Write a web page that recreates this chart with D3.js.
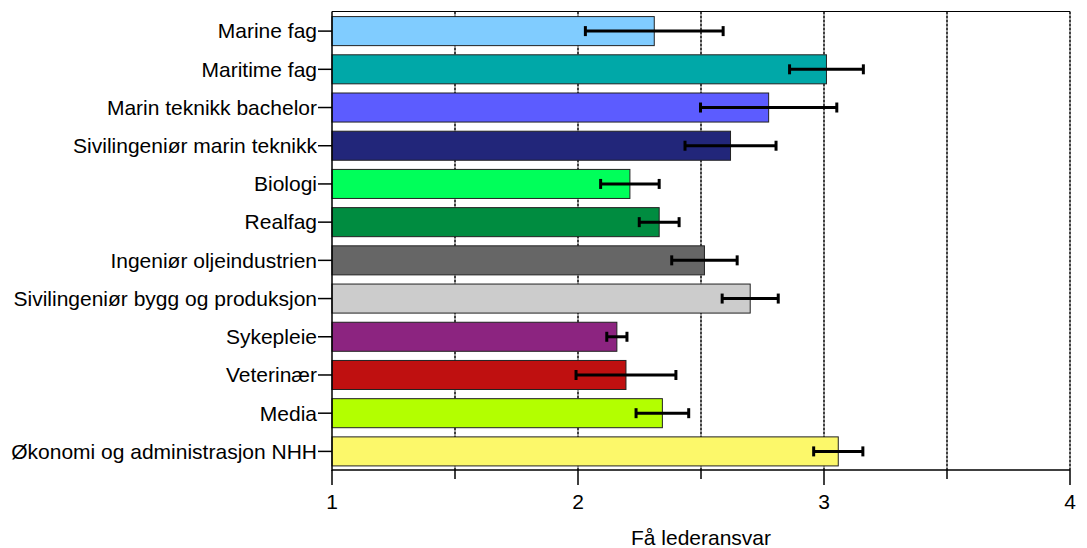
<!DOCTYPE html>
<html>
<head>
<meta charset="utf-8">
<script src="https://cdn.jsdelivr.net/npm/d3@7/dist/d3.min.js"></script>
<style>
  html, body { margin: 0; padding: 0; background: #fff; }
  svg { display: block; font-family: "Liberation Sans", Arial, sans-serif; }
</style>
</head>
<body>
<svg id="chart" width="1087" height="548"></svg>
<script>
const categories = [
  "Marine fag", "Maritime fag", "Marin teknikk bachelor", "Sivilingeniør marin teknikk",
  "Biologi", "Realfag", "Ingeniør oljeindustrien", "Sivilingeniør bygg og produksjon",
  "Sykepleie", "Veterinær", "Media", "Økonomi og administrasjon NHH"
];
const means  = [2.31, 3.01, 2.775, 2.62, 2.211, 2.33, 2.514, 2.70, 2.158, 2.195, 2.343, 3.058];
const errors = [0.28, 0.15, 0.277, 0.185, 0.119, 0.081, 0.133, 0.114, 0.041, 0.203, 0.107, 0.10];
const colors = ["#80CCFF", "#00A8A8", "#5C5CFF", "#22267A", "#00FF5A", "#008C40",
                "#666666", "#CCCCCC", "#8C2480", "#BF1010", "#B3FF00", "#FCF86A"];
const xMajorTicks = [1, 2, 3, 4];
const xMinorTicks = [1.5, 2.5, 3.5];
const gridValues = [1.5, 2, 2.5, 3, 3.5, 4];
const xTitle = "Få lederansvar";

(function () {
const svg = d3.select("#chart");
const mLeft = 332, mRight = 1070, mTop = 11.5, mBottom = 470;
const fs = 21;

const x = d3.scaleLinear().domain([1, 4]).range([mLeft, mRight]);
const y = d3.scaleBand().domain(categories).range([mTop + 0.5, mBottom + 0.5]).paddingInner(0.24).paddingOuter(0.12);

// gridlines
svg.append("g").selectAll("line").data(gridValues).join("line")
  .attr("x1", d => x(d)).attr("x2", d => x(d))
  .attr("y1", mTop).attr("y2", mBottom)
  .attr("stroke", "#111").attr("stroke-width", 1.6)
  .attr("stroke-dasharray", "3,1");

// top frame line
svg.append("line").attr("x1", mLeft).attr("x2", mRight).attr("y1", mTop).attr("y2", mTop)
  .attr("stroke", "#000").attr("stroke-width", 1.2);

// bars
svg.append("g").selectAll("rect").data(categories).join("rect")
  .attr("x", x(1))
  .attr("y", d => y(d))
  .attr("width", (d, i) => x(means[i]) - x(1))
  .attr("height", y.bandwidth())
  .attr("fill", (d, i) => colors[i])
  .attr("stroke", "#222").attr("stroke-width", 1);

// error bars
const eb = svg.append("g").attr("stroke", "#000").attr("stroke-width", 3);
categories.forEach((c, i) => {
  const cy = y(c) + y.bandwidth() / 2;
  const x0 = x(means[i] - errors[i]), x1 = x(means[i] + errors[i]);
  eb.append("line").attr("x1", x0).attr("x2", x1).attr("y1", cy).attr("y2", cy);
  [x0, x1].forEach(xx => eb.append("line").attr("x1", xx).attr("x2", xx)
    .attr("y1", cy - 5).attr("y2", cy + 5));
});

// x axis
const xAxis = svg.append("g").attr("transform", `translate(0,${mBottom})`);
xAxis.append("line").attr("x1", mLeft).attr("x2", mRight).attr("stroke", "#000").attr("stroke-width", 1.5);
xAxis.selectAll(".maj").data(xMajorTicks).join("line").attr("class", "maj")
  .attr("x1", d => x(d)).attr("x2", d => x(d)).attr("y1", 0).attr("y2", 15)
  .attr("stroke", "#000").attr("stroke-width", 1.5);
xAxis.selectAll(".min").data(xMinorTicks).join("line").attr("class", "min")
  .attr("x1", d => x(d)).attr("x2", d => x(d)).attr("y1", 0).attr("y2", 9)
  .attr("stroke", "#000").attr("stroke-width", 1.5);
xAxis.selectAll("text").data(xMajorTicks).join("text")
  .attr("x", d => x(d)).attr("y", 39)
  .attr("text-anchor", "middle").attr("font-size", fs).attr("fill", "#000")
  .text(d => d);

svg.append("text").attr("x", x(2.5)).attr("y", 545)
  .attr("text-anchor", "middle").attr("font-size", fs).attr("fill", "#000")
  .text(xTitle);

// y axis
const yAxis = svg.append("g");
yAxis.append("line").attr("x1", mLeft).attr("x2", mLeft).attr("y1", mTop).attr("y2", mBottom + 1)
  .attr("stroke", "#000").attr("stroke-width", 1.5);
yAxis.selectAll("line.tk").data(categories).join("line").attr("class", "tk")
  .attr("x1", mLeft - 14).attr("x2", mLeft)
  .attr("y1", d => y(d) + y.bandwidth() / 2).attr("y2", d => y(d) + y.bandwidth() / 2)
  .attr("stroke", "#000").attr("stroke-width", 1.5);
yAxis.selectAll("text").data(categories).join("text")
  .attr("x", mLeft - 15).attr("y", d => y(d) + y.bandwidth() / 2)
  .attr("dy", "0.35em").attr("text-anchor", "end")
  .attr("font-size", fs).attr("fill", "#000")
  .text(d => d);
})();
</script>
</body>
</html>
